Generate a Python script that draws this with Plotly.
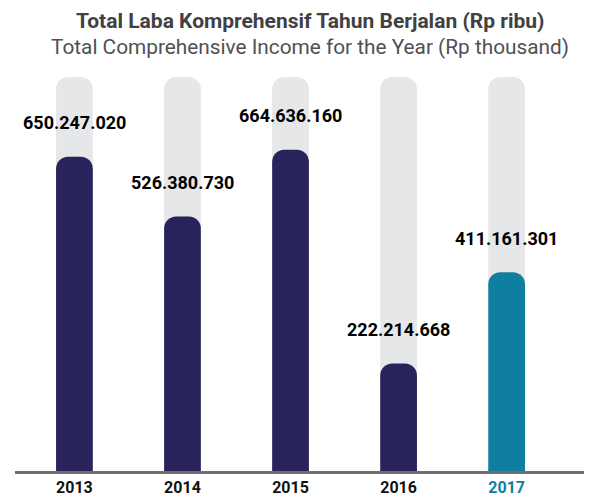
import plotly.graph_objects as go

years = ["2013", "2014", "2015", "2016", "2017"]
values = [650247020, 526380730, 664636160, 222214668, 411161301]
value_labels = ["650.247.020", "526.380.730", "664.636.160", "222.214.668", "411.161.301"]
track_values = [815000000] * 5
bar_colors = ["#28235a", "#28235a", "#28235a", "#28235a", "#0f7fa0"]
tick_labels = ["<b>2013</b>", "<b>2014</b>", "<b>2015</b>", "<b>2016</b>",
               "<b><span style='color:#0f7fa0'>2017</span></b>"]

title_main = "<b>Total Laba Komprehensif Tahun Berjalan (Rp ribu)</b>"
title_sub = "Total Comprehensive Income for the Year (Rp thousand)"

FONT = "Roboto"
BAR_W = 0.34
Y_MAX = 815000000

fig = go.Figure()
# background tracks on main y axis
fig.add_trace(go.Bar(x=years, y=track_values, width=BAR_W, yaxis="y",
                     marker=dict(color="#e6e7e8", cornerradius=12, line=dict(width=0)),
                     hoverinfo="skip", showlegend=False))
# value bars on overlaying axis so their rounded tops are kept
fig.add_trace(go.Bar(x=years, y=values, width=BAR_W, yaxis="y2",
                     marker=dict(color=bar_colors, cornerradius=12, line=dict(width=0)),
                     showlegend=False))

for i, (v, lab) in enumerate(zip(values, value_labels)):
    fig.add_annotation(x=i, y=v, xref="x", yref="y2", text="<b>" + lab + "</b>",
                       showarrow=False, yanchor="middle", yshift=34,
                       font=dict(family=FONT, size=18, color="#000000"))

fig.add_annotation(xref="paper", yref="paper", x=0.511, y=1.142, text=title_main,
                   showarrow=False, xanchor="center", yanchor="middle",
                   font=dict(family=FONT, size=21, color="#414042"))
fig.add_annotation(xref="paper", yref="paper", x=0.511, y=1.076, text=title_sub,
                   showarrow=False, xanchor="center", yanchor="middle",
                   font=dict(family=FONT, size=20.8, color="#505052"))

fig.update_layout(
    width=584, height=492,
    margin=dict(l=7, r=0, t=69, b=29),
    barmode="overlay",
    plot_bgcolor="white", paper_bgcolor="white",
    xaxis=dict(type="category", range=[-0.55, 4.79], tickvals=years, ticktext=tick_labels,
               showgrid=False, zeroline=False, showline=True, linecolor="#707070",
               linewidth=3, ticks="", tickfont=dict(family=FONT, size=16, color="#111111")),
    yaxis=dict(range=[0, Y_MAX], visible=False, showgrid=False, zeroline=False),
    yaxis2=dict(range=[0, Y_MAX], overlaying="y", visible=False, showgrid=False,
                zeroline=False),
)

fig.write_html("out.html")
